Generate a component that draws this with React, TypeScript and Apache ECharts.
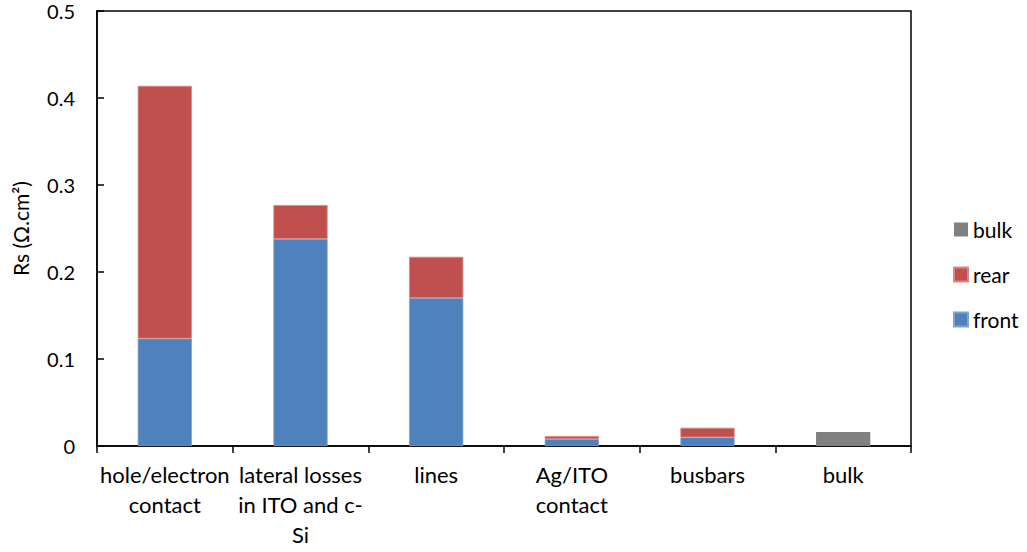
import React, { useEffect, useRef } from "react";
import * as echarts from "echarts";

const categories = ["hole/electron\ncontact", "lateral losses\nin ITO and c-\nSi", "lines", "Ag/ITO\ncontact", "busbars", "bulk"];
const frontValues: (number | string)[] = [0.1235, 0.238, 0.170, 0.008, 0.010, "-"];
const rearValues: (number | string)[] = [0.2905, 0.039, 0.0475, 0.0035, 0.011, "-"];
const bulkValues: (number | string)[] = ["-", "-", "-", "-", "-", 0.016];
const yTicks = { min: 0, max: 0.5, interval: 0.1 };

const FONT = "Lato, 'Open Sans', sans-serif";
const FS = 22;

export default function App() {
  const ref = useRef<HTMLDivElement>(null);
  useEffect(() => {
    if (!ref.current) return;
    const chart = echarts.init(ref.current, undefined, { renderer: "svg" });
    chart.setOption({
      animation: false,
      textStyle: { fontFamily: FONT },
      grid: {
        left: 97, top: 11, right: 116, bottom: 106,
        show: true, borderColor: "#000", borderWidth: 1.5, backgroundColor: "transparent",
      },
      legend: {
        orient: "vertical",
        left: 948,
        top: 214,
        itemWidth: 14,
        itemHeight: 14,
        itemGap: 24,
        data: ["bulk", "rear", "front"],
        textStyle: { fontFamily: FONT, fontSize: 21, color: "#000", lineHeight: 20 },
        icon: "rect",
      },
      xAxis: {
        type: "category",
        data: categories,
        axisLine: { lineStyle: { color: "#000", width: 1.5 } },
        axisTick: { show: true, inside: false, length: 7, lineStyle: { color: "#000", width: 1.5 } },
        axisLabel: { color: "#000", fontSize: FS, fontFamily: FONT, lineHeight: 30, margin: 13, interval: 0 },
      },
      yAxis: {
        type: "value",
        min: yTicks.min,
        max: yTicks.max,
        interval: yTicks.interval,
        name: "Rs (Ω.cm²)",
        nameLocation: "middle",
        nameGap: 66,
        nameTextStyle: { color: "#000", fontSize: 21, fontFamily: FONT },
        axisLine: { show: true, lineStyle: { color: "#000", width: 1.5 } },
        axisTick: { show: true, inside: true, length: 7, lineStyle: { color: "#000", width: 1.5 } },
        splitLine: { show: false },
        axisLabel: { color: "#000", fontSize: 20, fontFamily: FONT, margin: 22, lineHeight: 16 },
      },
      series: [
        {
          name: "front", type: "bar", stack: "rs", data: frontValues, barWidth: "40%",
          itemStyle: { color: "#4F81BD", borderColor: "#7FA3CF", borderWidth: 0.8 },
        },
        {
          name: "rear", type: "bar", stack: "rs", data: rearValues, barWidth: "40%",
          itemStyle: { color: "#C0504D", borderColor: "#D88886", borderWidth: 0.8 },
        },
        {
          name: "bulk", type: "bar", stack: "rs", data: bulkValues, barWidth: "40%",
          itemStyle: { color: "#808080" },
        },
      ],
    });
    return () => chart.dispose();
  }, []);
  return <div ref={ref} style={{ width: 1027, height: 552, position: "absolute", left: 0, top: 0 }} />;
}
